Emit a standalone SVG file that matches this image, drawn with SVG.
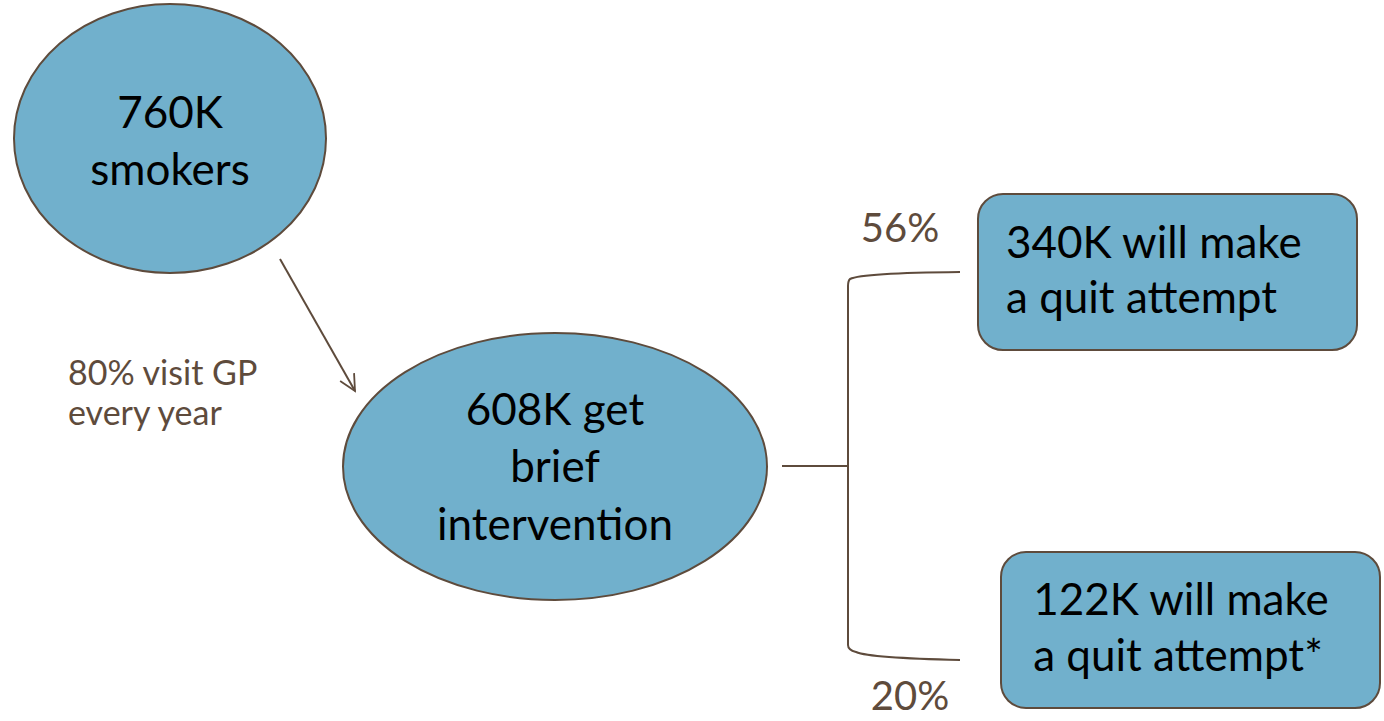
<svg xmlns="http://www.w3.org/2000/svg" width="1384" height="721" viewBox="0 0 1384 721">
<style>
.node{fill:#71b0cc;stroke:#5e4b3c;stroke-width:2}
.t{font-family:Lato,"Open Sans","Liberation Sans",sans-serif;fill:#000;font-size:44px}
.lbl{font-family:Lato,"Open Sans","Liberation Sans",sans-serif;fill:#5e4b3c}
.conn{fill:none;stroke:#5e4b3c;stroke-width:2}
</style>
<defs>
<marker id="arr" markerWidth="20" markerHeight="20" refX="18" refY="10" orient="auto" markerUnits="userSpaceOnUse">
<path d="M2,2 L18,10 L2,18" fill="none" stroke="#5e4b3c" stroke-width="1.8"/>
</marker>
</defs>
<rect width="1384" height="721" fill="#fff"/>
<g id="connectors">
<line class="conn" x1="280" y1="259" x2="355" y2="391" marker-end="url(#arr)"/>
<path class="conn" d="M782,466 H848"/>
<path class="conn" d="M960,272 Q862,273 850,279 Q848,281 848,286 V645 Q848,650 856,652 Q870,658 960,660"/>
</g>
<g id="n1">
<ellipse class="node" cx="170" cy="138.5" rx="156" ry="134.5"/>
<text class="t" text-anchor="middle"><tspan x="170" y="128">760K</tspan><tspan x="170" y="185">smokers</tspan></text>
</g>
<g id="n2">
<ellipse class="node" cx="555" cy="466.5" rx="212" ry="133.5"/>
<text class="t" text-anchor="middle"><tspan x="555" y="425">608K get</tspan><tspan x="555" y="482">brief</tspan><tspan x="555" y="540">intervention</tspan></text>
</g>
<g id="n3">
<rect class="node" x="978" y="194" width="379" height="156" rx="25"/>
<text class="t"><tspan x="1006" y="258">340K will make</tspan><tspan x="1006" y="313">a quit attempt</tspan></text>
</g>
<g id="n4">
<rect class="node" x="1001" y="552" width="379" height="156" rx="25"/>
<text class="t" text-anchor="middle"><tspan x="1181" y="615">122K will make</tspan><tspan x="1178" y="671">a quit attempt*</tspan></text>
</g>
<g id="labels">
<text class="lbl" x="900" y="242" font-size="40" text-anchor="middle">56%</text>
<text class="lbl" x="910" y="710" font-size="40" text-anchor="middle">20%</text>
<text class="lbl" font-size="34"><tspan x="68" y="385">80% visit GP</tspan><tspan x="68" y="425">every year</tspan></text>
</g>
</svg>
